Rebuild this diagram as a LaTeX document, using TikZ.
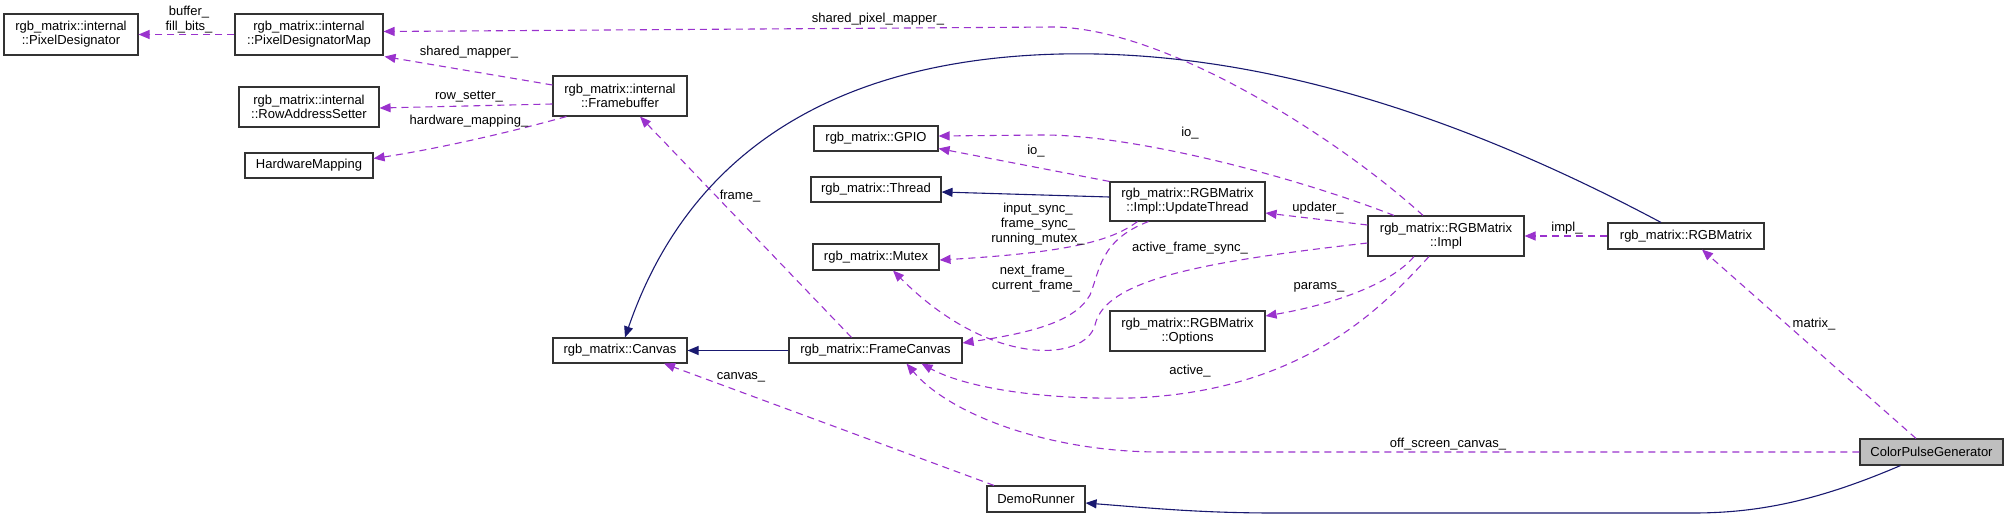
\documentclass[tikz,border=0pt]{standalone}
\usepackage{fontspec}
\setmainfont{Liberation Sans}
\usetikzlibrary{arrows.meta,calc}
\definecolor{dpurple}{RGB}{154,50,205}
\definecolor{dblue}{RGB}{25,25,112}
\definecolor{cpgfill}{RGB}{191,191,191}
\begin{document}
\begin{tikzpicture}[x=1pt,y=-1pt,
 box/.style={draw=black!80, line width=1.1pt, fill=white, inner sep=0pt, align=center, font=\fontsize{13}{14}\selectfont},
 lbl/.style={inner sep=0pt, align=center, font=\fontsize{13}{15}\selectfont},
 uses/.style={draw=dpurple, line width=1.1pt, dash pattern=on 7pt off 5pt, -{Triangle[length=11pt,width=9pt]}},
 inh/.style={draw=dblue, line width=1.1pt, -{Triangle[length=11pt,width=9pt]}}]
\useasboundingbox (0,0) rectangle (2008,519);

\node[box, minimum width=134pt, minimum height=41pt] (pd) at (71,34.5) {rgb\_matrix::internal\\::PixelDesignator};
\node[box, minimum width=148pt, minimum height=41pt] (pdm) at (309,34.5) {rgb\_matrix::internal\\::PixelDesignatorMap};
\node[box, minimum width=140pt, minimum height=40pt] (ras) at (309,107) {rgb\_matrix::internal\\::RowAddressSetter};
\node[box, minimum width=128pt, minimum height=25pt] (hm) at (309,165.5) {HardwareMapping};
\node[box, minimum width=134pt, minimum height=40pt] (fb) at (620,96) {rgb\_matrix::internal\\::Framebuffer};
\node[box, minimum width=124pt, minimum height=25pt] (gpio) at (876,138.5) {rgb\_matrix::GPIO};
\node[box, minimum width=130pt, minimum height=25pt] (thread) at (876,189.5) {rgb\_matrix::Thread};
\node[box, minimum width=126pt, minimum height=26pt] (mutex) at (876,257) {rgb\_matrix::Mutex};
\node[box, minimum width=134pt, minimum height=25pt] (canvas) at (620,350.5) {rgb\_matrix::Canvas};
\node[box, minimum width=173pt, minimum height=25pt] (fc) at (875.5,350.5) {rgb\_matrix::FrameCanvas};
\node[box, minimum width=155pt, minimum height=39pt] (ut) at (1187.5,201.5) {rgb\_matrix::RGBMatrix\\::Impl::UpdateThread};
\node[box, minimum width=155pt, minimum height=40pt] (opt) at (1187.5,331) {rgb\_matrix::RGBMatrix\\::Options};
\node[box, minimum width=156pt, minimum height=40pt] (impl) at (1446,236) {rgb\_matrix::RGBMatrix\\::Impl};
\node[box, minimum width=156pt, minimum height=26pt] (rgb) at (1686,236) {rgb\_matrix::RGBMatrix};
\node[box, minimum width=98pt, minimum height=26pt] (dr) at (1036,499) {DemoRunner};
\node[box, fill=cpgfill, minimum width=143pt, minimum height=26pt] (cpg) at (1931.5,452) {ColorPulseGenerator};

% usage edges
\draw[uses] (pdm.west) -- (pd.east);
\draw[uses] ($(fb.west)+(0,-11)$) -- ($(pdm.south east)+(1,1)$);
\draw[uses] ($(fb.west)+(0,8)$) -- ($(ras.east)+(0,1)$);
\draw[uses] ($(fb.south west)+(14,0)$) .. controls (500,135) and (430,150) .. ($(hm.east)+(0,-7)$);
\draw[uses] ($(fc.north)+(-24,0)$) -- ($(fb.south)+(20,0)$);
\draw[uses] ($(impl.north)+(-23,0)$) .. controls (1340,140) and (1170,30) .. (1056,27) -- ($(pdm.east)+(0,-3)$);
\draw[uses] ($(impl.north)+(-52,0)$) .. controls (1290,175) and (1130,134) .. (1040,135) -- ($(gpio.east)+(0,-2.5)$);
\draw[uses] (ut.north west) -- ($(gpio.east)+(0,10)$);
\draw[uses] ($(impl.west)+(0,-11)$) -- ($(ut.east)+(0,11.5)$);
\draw[uses] ($(ut.south)+(-50,0)$) .. controls (1115,238) and (1080,252) .. ($(mutex.east)+(0,3)$);
\draw[uses] ($(ut.south)+(-39,0)$) .. controls (1100,240) and (1100,270) .. (1090,295) .. controls (1075,322) and (1030,333) .. ($(fc.east)+(0,-7.5)$);
\draw[uses] ($(impl.west)+(0,7)$) .. controls (1200,262) and (1105,280) .. (1095,325) .. controls (1085,362) and (990,368) .. ($(mutex.south)+(17,0)$);
\draw[uses] ($(impl.south)+(-32,0)$) .. controls (1390,285) and (1330,305) .. ($(opt.east)+(0,-15)$);
\draw[uses] ($(impl.south)+(-17,0)$) .. controls (1380,310) and (1300,392) .. (1131,398) .. controls (1030,400) and (960,385) .. ($(fc.south)+(46,0)$);
\draw[uses] (cpg.west) -- (1160,452) .. controls (1050,452) and (950,415) .. ($(fc.south)+(31,0)$);
\draw[uses] ($(cpg.north)+(-15.5,0)$) -- ($(rgb.south)+(16,0)$);
\draw[uses] (rgb.west) -- (impl.east);
\draw[uses] ($(dr.north)+(-42,0)$) -- ($(canvas.south)+(44,0)$);

% inheritance edges
\draw[inh] (fc.west) -- (canvas.east);
\draw[inh] ($(ut.west)+(0,-4.5)$) -- ($(thread.east)+(0,2.5)$);
\draw[inh] ($(rgb.north)+(-25,0)$) .. controls (1450,110) and (1250,50) .. (1061,54) .. controls (880,58) and (700,120) .. ($(canvas.north)+(5,0)$);
\draw[inh] ($(cpg.south)+(-31,0)$) .. controls (1820,500) and (1760,513) .. (1693,513) -- (1275,513) .. controls (1200,513) and (1150,508) .. ($(dr.east)+(0,4)$);

% labels
\node[lbl] (l1) at (189,20) {buffer\_\\fill\_bits\_};
\node[lbl] (l2) at (469,52) {shared\_mapper\_};
\node[lbl] (l3) at (469,97) {row\_setter\_};
\node[lbl] (l4) at (469,121) {hardware\_mapping\_};
\node[lbl] (l5) at (878,19) {shared\_pixel\_mapper\_};
\node[lbl] (l6) at (740,196) {frame\_};
\node[lbl] (l7) at (1190,133) {io\_};
\node[lbl] (l8) at (1036,151) {io\_};
\node[lbl] (l9) at (1318,208) {updater\_};
\node[lbl] (l10) at (1038,224) {input\_sync\_\\frame\_sync\_\\running\_mutex\_};
\node[lbl] (l11) at (1036,279) {next\_frame\_\\current\_frame\_};
\node[lbl] (l12) at (1190,248) {active\_frame\_sync\_};
\node[lbl] (l13) at (1319,287) {params\_};
\node[lbl] (l14) at (1567,228) {impl\_};
\node[lbl] (l15) at (1190,371) {active\_};
\node[lbl] (l16) at (741,377) {canvas\_};
\node[lbl] (l17) at (1448,444) {off\_screen\_canvas\_};
\node[lbl] (l18) at (1814,324) {matrix\_};
\end{tikzpicture}
\end{document}
